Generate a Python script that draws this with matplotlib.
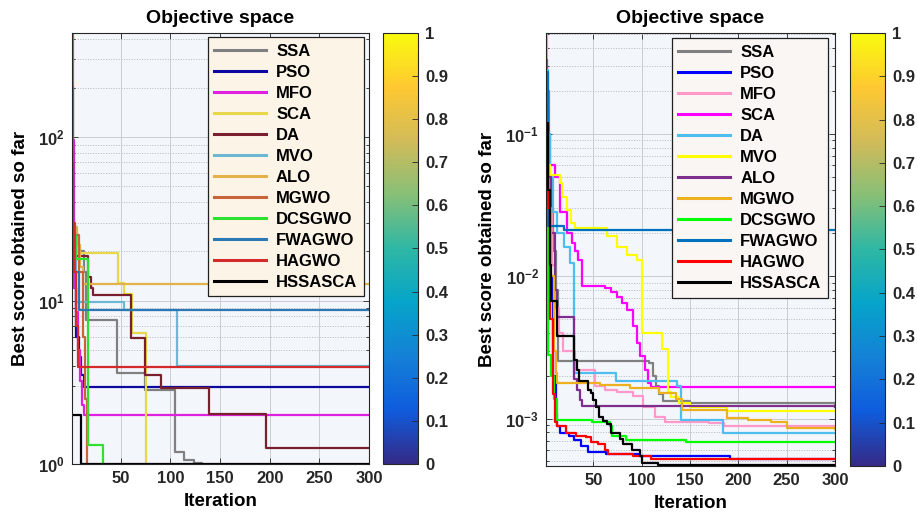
import numpy as np
import matplotlib
matplotlib.use("Agg")
import matplotlib.pyplot as plt
from matplotlib.colors import LinearSegmentedColormap, Normalize
from matplotlib.cm import ScalarMappable

plt.rcParams['font.family'] = ['Liberation Sans', 'DejaVu Sans']
plt.rcParams['font.weight'] = 'bold'
plt.rcParams['mathtext.fontset'] = 'custom'
plt.rcParams['mathtext.rm'] = 'Liberation Sans:bold'
plt.rcParams['mathtext.bf'] = 'Liberation Sans:bold'

# legend order (same names in both panels)
names = ['SSA', 'PSO', 'MFO', 'SCA', 'DA', 'MVO', 'ALO', 'MGWO',
         'DCSGWO', 'FWAGWO', 'HAGWO', 'HSSASCA']

# ---- left panel: convergence breakpoints (iteration, best score) ----
l_ssa = [(1, 25), (7, 20), (13, 15), (15, 7.6), (46, 3.6), (74, 2.84),
         (105, 1.18), (114, 1.06), (124, 1.01), (132, 0.9), (300, 0.9)]
l_pso = [(1, 30), (3, 12), (5, 6), (8, 4.5), (10, 3.5), (13, 2.97), (300, 2.97)]
l_mfo = [(1, 96), (3, 12), (5, 8.5), (7, 5), (9, 3.2), (11, 2.3), (13, 2.0), (300, 2.0)]
l_sca = [(1, 30), (4, 27), (6, 19.5), (47, 12.8), (53, 10.9), (61, 6.3),
         (76, 0.5), (300, 0.5)]
l_da = [(1, 25), (4, 18.6), (17, 14), (20, 12), (22, 10.8), (60, 5.9),
        (75, 3.5), (91, 2.92), (139, 2.02), (196, 1.26), (300, 1.26)]
l_mvo = [(1, 20), (5, 9.8), (53, 8.8), (107, 4.0), (300, 4.0)]
l_alo = [(1, 28), (6, 22), (9, 16), (12, 12.6), (300, 12.6)]
l_mgwo = [(1, 433), (2, 25), (8, 15), (12, 6), (14, 2.5), (16, 0.5), (300, 0.5)]
l_dcsgwo = [(1, 25), (5, 18), (17, 1.3), (32, 0.5), (300, 0.5)]
l_fwagwo = [(1, 202), (2, 30), (4, 15), (8, 8.8), (300, 8.8)]
l_hagwo = [(1, 69), (2, 30), (3, 15), (5, 7), (7, 3.94), (300, 3.94)]
l_hssasca = [(1, 2.0), (10, 1.0), (300, 1.0)]

# ---- right panel ----
r_ssa = [(1, 0.2), (4, 0.03), (8, 0.015), (11, 0.008), (13, 2.52e-3),
         (108, 2.45e-3), (112, 2.0e-3), (115, 1.7e-3), (118, 1.5e-3),
         (122, 1.32e-3), (150, 1.28e-3), (300, 1.26e-3)]
r_pso = [(1, 0.07), (2, 0.04), (4, 0.01), (8, 2e-3), (11, 1.1e-3), (12, 8.9e-4),
         (15, 7.9e-4), (25, 7.6e-4), (30, 7.1e-4), (37, 6.4e-4), (44, 5.8e-4),
         (63, 5.6e-4), (98, 5.44e-4), (191, 5.2e-4), (300, 5.2e-4)]
r_mfo = [(1, 0.51), (2, 0.1), (4, 0.03), (7, 0.012), (10, 6e-3), (14, 4e-3),
         (19, 2.96e-3), (31, 2.2e-3), (52, 1.69e-3), (62, 1.6e-3), (74, 1.55e-3),
         (91, 1.43e-3), (101, 1.21e-3), (114, 1.03e-3), (124, 9.5e-4),
         (170, 9.3e-4), (185, 8.9e-4), (300, 8.8e-4)]
r_sca = [(1, 0.33), (2, 0.1), (5, 0.06), (10, 0.05), (15, 0.028), (23, 0.02),
         (28, 0.017), (31, 0.015), (34, 0.013), (38, 8.5e-3), (62, 8.3e-3),
         (68, 7.8e-3), (74, 7.2e-3), (80, 6.5e-3), (85, 5.8e-3), (91, 4.45e-3),
         (95, 3.4e-3), (98, 2.74e-3), (103, 2.2e-3), (107, 1.78e-3),
         (110, 1.66e-3), (300, 1.66e-3)]
r_da = [(1, 0.28), (3, 0.1), (5, 0.05), (8, 0.028), (12, 0.02), (20, 0.016),
        (26, 0.0124), (30, 2.1e-3), (73, 1.83e-3), (137, 1.7e-3), (141, 9.8e-4),
        (184, 7.9e-4), (300, 7.9e-4)]
r_mvo = [(1, 0.06), (5, 0.0515), (15, 0.045), (18, 0.036), (23, 0.029),
         (27, 0.0237), (31, 0.0219), (64, 0.019), (74, 0.016), (85, 0.014),
         (95, 0.013), (100, 4.0e-3), (121, 3.1e-3), (127, 1.55e-3),
         (130, 1.41e-3), (139, 1.29e-3), (150, 1.2e-3), (188, 1.13e-3),
         (300, 1.13e-3)]
r_alo = [(1, 0.15), (3, 0.05), (6, 0.02), (10, 8e-3), (12, 5.2e-3),
         (30, 1.9e-3), (33, 1.6e-3), (36, 1.35e-3), (38, 1.22e-3), (300, 1.2e-3)]
r_mgwo = [(1, 0.1), (3, 0.03), (6, 0.01), (9, 3e-3), (11, 2.1e-3), (12, 1.78e-3),
          (57, 1.72e-3), (88, 1.64e-3), (118, 1.51e-3), (135, 1.37e-3),
          (142, 1.15e-3), (188, 1.01e-3), (210, 9.8e-4), (234, 9.4e-4),
          (250, 8.6e-4), (300, 8.4e-4)]
r_dcsgwo = [(1, 0.2), (2, 0.05), (3, 2.8e-3), (6, 2e-3), (9, 1.37e-3),
            (12, 9.8e-4), (49, 9.4e-4), (67, 8.9e-4), (69, 7.6e-4), (84, 7.1e-4),
            (146, 6.9e-4), (300, 6.9e-4)]
r_fwagwo = [(1, 0.27), (3, 0.0225), (20, 0.021), (300, 0.021)]
r_hagwo = [(1, 0.095), (3, 0.03), (5, 0.005), (8, 1.5e-3), (10, 9.4e-4),
           (12, 8.9e-4), (22, 7.9e-4), (32, 7.6e-4), (42, 7.4e-4), (48, 6.9e-4),
           (55, 6.6e-4), (62, 6.0e-4), (65, 5.6e-4), (91, 5.44e-4), (110, 5.2e-4),
           (300, 5.2e-4)]
r_hssasca = [(1, 0.119), (3, 0.04), (5, 0.012), (6, 6.65e-3), (12, 3.8e-3),
             (30, 2.6e-3), (33, 2.2e-3), (35, 1.83e-3), (44, 1.6e-3), (48, 1.52e-3),
             (50, 1.35e-3), (53, 1.21e-3), (56, 1.03e-3), (60, 9.6e-4),
             (64, 9.1e-4), (68, 7.9e-4), (78, 7.2e-4), (81, 6.6e-4), (90, 6.0e-4),
             (98, 5.44e-4), (100, 4.9e-4), (117, 4.7e-4), (300, 4.7e-4)]

left_series = [l_ssa, l_pso, l_mfo, l_sca, l_da, l_mvo, l_alo, l_mgwo,
               l_dcsgwo, l_fwagwo, l_hagwo, l_hssasca]
right_series = [r_ssa, r_pso, r_mfo, r_sca, r_da, r_mvo, r_alo, r_mgwo,
                r_dcsgwo, r_fwagwo, r_hagwo, r_hssasca]

left_colors = ['#808080', '#0a0aa0', '#e020e0', '#e8d64c', '#7a1f2e', '#6cb8d2',
               '#e3b24a', '#c8643a', '#30e030', '#2c78b4', '#d42a2a', '#000000']
right_colors = ['#808080', '#0000ff', '#ff99cc', '#ff00ff', '#4dbeee', '#ffff00',
                '#7e2f8e', '#edb120', '#00ff00', '#0072bd', '#ff0000', '#000000']

# parula-like colormap for the bars
parula = LinearSegmentedColormap.from_list('parula', [
    '#352a87', '#0f5cdd', '#1481d6', '#06a4ca', '#2eb7a4',
    '#87bf77', '#d1bb59', '#fec832', '#f9fb0e'])

fig = plt.figure(figsize=(9.17, 5.21), dpi=100)


def panel(rect, cbrect, series, colors, ylim, yticks, ylabels, legbg, legpos):
    ax = fig.add_axes(rect)
    ax.set_facecolor('#f3f6fb')
    for pts, c, n in zip(series, colors, names):
        it = [p[0] for p in pts]
        val = [p[1] for p in pts]
        ax.step(it, val, where='post', color=c, lw=1.6, label=n)
    ax.set_yscale('log')
    ax.set_xlim(1, 300)
    ax.set_ylim(*ylim)
    ax.set_xticks([50, 100, 150, 200, 250, 300])
    ax.set_yticks(yticks)
    ax.set_yticklabels(ylabels)
    ax.tick_params(which='both', direction='in', top=True, right=True,
                   labelsize=12, colors='#262626', width=0.6, pad=5)
    ax.tick_params(which='major', length=4)
    ax.tick_params(which='minor', length=2)
    ax.grid(True, which='major', color='#c9cdd3', lw=0.7)
    ax.grid(True, which='minor', axis='y', color='#b4b8be', ls=':', lw=0.7)
    for s in ax.spines.values():
        s.set_color('#262626')
        s.set_linewidth(0.8)
    ax.set_title('Objective space', fontsize=14, fontweight='bold', pad=7)
    ax.set_xlabel('Iteration', fontsize=13.5, fontweight='bold', labelpad=5)
    ax.set_ylabel('Best score obtained so far', fontsize=13.5, fontweight='bold',
                  labelpad=7)
    leg = ax.legend(loc='upper right', bbox_to_anchor=legpos, borderaxespad=0,
                    fontsize=12, handlelength=3.1, labelspacing=0.36,
                    fancybox=False, framealpha=1, edgecolor='#202020',
                    borderpad=0.4, handletextpad=0.6)
    leg.get_frame().set_facecolor(legbg)
    leg.get_frame().set_linewidth(0.9)
    for line in leg.get_lines():
        line.set_linewidth(2.2)

    cax = fig.add_axes(cbrect)
    cb = fig.colorbar(ScalarMappable(norm=Normalize(0, 1), cmap=parula), cax=cax)
    cb.set_ticks(np.arange(0, 1.01, 0.1))
    cb.set_ticklabels(['0', '0.1', '0.2', '0.3', '0.4', '0.5', '0.6', '0.7',
                       '0.8', '0.9', '1'])
    cax.tick_params(labelsize=12, direction='in', length=4, width=0.6,
                    colors='#262626', pad=5)
    cb.outline.set_linewidth(0.8)
    cb.outline.set_edgecolor('#262626')
    return ax


panel([0.0785, 0.1094, 0.3239, 0.8273], [0.4177, 0.1094, 0.0382, 0.8273],
      left_series, left_colors, (1, 433), [1, 10, 100],
      [r'$\mathbf{10^{0}}$', r'$\mathbf{10^{1}}$', r'$\mathbf{10^{2}}$'],
      '#fdf4e8', (0.983, 0.991))

panel([0.5954, 0.1056, 0.3152, 0.8311], [0.927, 0.1056, 0.0382, 0.8311],
      right_series, right_colors, (4.65e-4, 0.51), [1e-3, 1e-2, 1e-1],
      [r'$\mathbf{10^{-3}}$', r'$\mathbf{10^{-2}}$', r'$\mathbf{10^{-1}}$'],
      '#faf6f3', (0.976, 0.988))

fig.savefig('out.png', dpi=100)
